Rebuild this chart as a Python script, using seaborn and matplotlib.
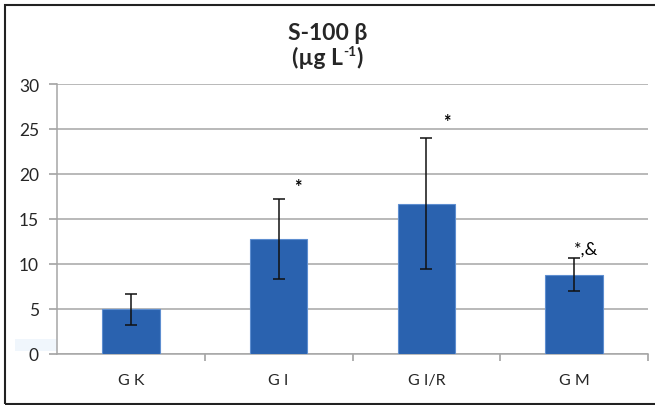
import matplotlib
matplotlib.use("Agg")
import matplotlib.pyplot as plt
import seaborn as sns
import pandas as pd
import numpy as np
from matplotlib.patches import Rectangle

groups = ["G K", "G I", "G I/R", "G M"]
means = [4.95, 12.8, 16.7, 8.8]
errors = [1.72, 4.45, 7.3, 1.85]
marks = ["", "*", "*", "*,&"]
mark_y = [0, 18.6, 25.8, 11.7]
mark_dx = [0, 0.13, 0.14, 0.08]
yticks = [0, 5, 10, 15, 20, 25, 30]

sns.set_theme(style="white")
plt.rcParams["font.family"] = ["Lato", "DejaVu Sans"]

df = pd.DataFrame({"group": groups, "mean": means})

fig = plt.figure(figsize=(6.55, 4.06), dpi=100)
ax = fig.add_axes([57/655, 1-355/406, (648-57)/655, (355-85)/406])

sns.barplot(data=df, x="group", y="mean", ax=ax, color="#2A62AF",
            width=0.39, saturation=1, edgecolor="#5E8ED0", linewidth=0.8, zorder=3)
ax.errorbar(np.arange(len(groups)), means, yerr=errors, fmt="none",
            ecolor="#111111", elinewidth=1.1, capsize=4, capthick=1.1, zorder=4)

for i, (m, yv, dx) in enumerate(zip(marks, mark_y, mark_dx)):
    if m:
        ax.text(i + dx, yv, m, ha="center", va="center", fontsize=13, color="black",
                fontweight="bold" if m == "*" else "normal")

ax.set_ylim(0, 30)
ax.set_xlim(-0.5, len(groups) - 0.5)
ax.set_yticks(yticks)
ax.set_yticklabels([str(v) for v in yticks], fontsize=12.5)
ax.yaxis.grid(True, color="#A6A6A6", linewidth=1.1, zorder=0)
ax.set_axisbelow(True)

ax.set_xticks(np.arange(len(groups)) + 0.5)
ax.set_xticklabels([])
ax.set_xticks(np.arange(len(groups)), minor=True)
ax.set_xticklabels(groups, minor=True, fontsize=11.5)
ax.tick_params(axis="x", which="major", length=5, color="#A6A6A6", direction="out", bottom=True)
ax.tick_params(axis="x", which="minor", length=0, pad=14)
ax.tick_params(axis="y", length=6, color="#A6A6A6", direction="out", left=True, pad=7)

for s in ["top", "right"]:
    ax.spines[s].set_visible(False)
for s in ["left", "bottom"]:
    ax.spines[s].set_color("#A6A6A6")
    ax.spines[s].set_linewidth(1.1)
ax.set_xlabel("")
ax.set_ylabel("")

# title
fig.text(0.5, 1-33/406, "S-100 β", ha="center", va="center", fontsize=16.5, fontweight="bold")
fig.canvas.draw()
r = fig.canvas.get_renderer()
t1 = fig.text(0, 1-58/406, "(µg L", ha="left", va="center", fontsize=16.5, fontweight="bold")
t2 = fig.text(0, 1-52/406, "-1", ha="left", va="center", fontsize=10, fontweight="bold")
t3 = fig.text(0, 1-58/406, ")", ha="left", va="center", fontsize=16.5, fontweight="bold")
w1 = t1.get_window_extent(r).width
w2 = t2.get_window_extent(r).width
w3 = t3.get_window_extent(r).width
total = w1 + w2 + w3 + 1
x0 = (655 - total) / 2
t1.set_x(x0 / 655)
t2.set_x((x0 + w1 + 0.5) / 655)
t3.set_x((x0 + w1 + w2 + 1) / 655)

fig.patches.append(Rectangle((15/655, 1-352/406), 42/655, 12/406, transform=fig.transFigure,
                             facecolor="#F0F6FC", edgecolor="none", zorder=-1))
fig.patches.append(Rectangle((5/655, 1.5/406), 660/655, (404-5)/406, transform=fig.transFigure,
                             facecolor="none", edgecolor="#222222", linewidth=1.5, zorder=5))

fig.savefig("out.png", dpi=100)
